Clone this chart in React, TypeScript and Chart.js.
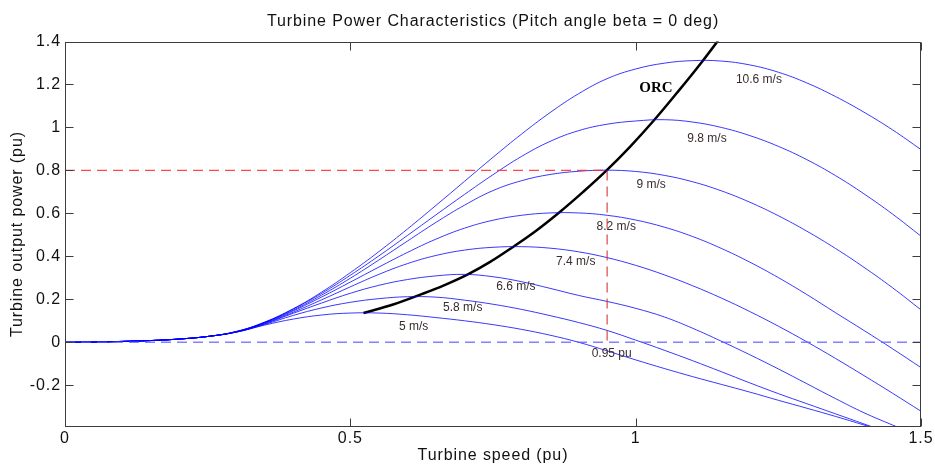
import React, { useEffect, useRef } from "react";
import { Chart, registerables } from "chart.js";

Chart.register(...registerables);

// ---- data ----
const speedGrid = [0, 0.05, 0.1, 0.15, 0.2, 0.25, 0.3, 0.35, 0.4, 0.45, 0.5, 0.55, 0.6, 0.65, 0.7, 0.75, 0.8, 0.85, 0.9, 0.95, 1.0, 1.05, 1.1, 1.15, 1.2, 1.25, 1.3, 1.35, 1.4, 1.45, 1.5];

const windSpeeds = ["5 m/s", "5.8 m/s", "6.6 m/s", "7.4 m/s", "8.2 m/s", "9 m/s", "9.8 m/s", "10.6 m/s"];

const power5 = [0, 0.001, 0.004, 0.008, 0.015, 0.027, 0.047, 0.08, 0.108, 0.127, 0.136, 0.136, 0.128, 0.115, 0.1, 0.082, 0.06, 0.033, 0.0, -0.04, -0.082, -0.122, -0.16, -0.196, -0.232, -0.27, -0.307, -0.345, -0.385, -0.425, -0.465];
const power58 = [0, 0.001, 0.004, 0.008, 0.015, 0.027, 0.047, 0.083, 0.125, 0.16, 0.186, 0.203, 0.212, 0.21, 0.196, 0.177, 0.153, 0.124, 0.092, 0.055, 0.01, -0.037, -0.086, -0.137, -0.189, -0.239, -0.286, -0.333, -0.38, -0.428, -0.475];
const power66 = [0, 0.001, 0.004, 0.008, 0.015, 0.027, 0.048, 0.086, 0.135, 0.183, 0.228, 0.265, 0.292, 0.309, 0.316, 0.305, 0.282, 0.251, 0.218, 0.19, 0.158, 0.118, 0.065, 0.005, -0.058, -0.124, -0.193, -0.262, -0.328, -0.385, -0.44];
const power74 = [0, 0.001, 0.004, 0.008, 0.015, 0.027, 0.048, 0.088, 0.14, 0.198, 0.258, 0.316, 0.366, 0.404, 0.429, 0.442, 0.445, 0.438, 0.421, 0.394, 0.358, 0.314, 0.263, 0.206, 0.143, 0.075, 0.002, -0.075, -0.155, -0.237, -0.321];
const power82 = [0, 0.001, 0.004, 0.008, 0.015, 0.027, 0.049, 0.09, 0.146, 0.211, 0.28, 0.35, 0.418, 0.48, 0.531, 0.568, 0.591, 0.602, 0.602, 0.591, 0.569, 0.536, 0.492, 0.437, 0.373, 0.301, 0.222, 0.138, 0.055, -0.03, -0.118];
const power9 = [0, 0.001, 0.004, 0.008, 0.015, 0.027, 0.049, 0.092, 0.15, 0.22, 0.298, 0.383, 0.471, 0.558, 0.638, 0.706, 0.752, 0.781, 0.796, 0.801, 0.795, 0.777, 0.747, 0.705, 0.652, 0.589, 0.517, 0.437, 0.349, 0.254, 0.151];
const power98 = [0, 0.001, 0.004, 0.008, 0.015, 0.027, 0.05, 0.093, 0.155, 0.228, 0.312, 0.402, 0.497, 0.593, 0.688, 0.78, 0.865, 0.935, 0.985, 1.015, 1.03, 1.036, 1.025, 1.0, 0.962, 0.912, 0.85, 0.776, 0.691, 0.597, 0.494];
const power106 = [0, 0.001, 0.004, 0.008, 0.015, 0.027, 0.05, 0.094, 0.156, 0.234, 0.324, 0.422, 0.527, 0.637, 0.749, 0.861, 0.969, 1.069, 1.157, 1.227, 1.272, 1.299, 1.311, 1.309, 1.291, 1.257, 1.207, 1.144, 1.071, 0.989, 0.897];

const powerSeries = [power5, power58, power66, power74, power82, power9, power98, power106];

// optimum regime characteristic (ORC)
const orcSpeed = [0.523, 0.575, 0.625, 0.665, 0.706, 0.745, 0.783, 0.825, 0.866, 0.908, 0.949, 0.99, 1.031, 1.072, 1.116, 1.16];
const orcPower = [0.136, 0.176, 0.224, 0.266, 0.316, 0.374, 0.44, 0.518, 0.604, 0.7, 0.8, 0.91, 1.03, 1.16, 1.305, 1.46];

// reference operating point
const ratedSpeed = 0.95;
const ratedPower = 0.8;

const xTickValues = [0, 0.5, 1, 1.5];
const yTickValues = [-0.2, 0, 0.2, 0.4, 0.6, 0.8, 1, 1.2, 1.4];
const xRange = [0, 1.5];
const yRange = [-0.393, 1.4];

const chartTitle = "Turbine Power Characteristics (Pitch angle beta = 0 deg)";

// curve labels, anchored in data units
const curveLabelText = ["10.6 m/s", "9.8 m/s", "9 m/s", "8.2 m/s", "7.4 m/s", "6.6 m/s", "5.8 m/s", "5 m/s", "0.95 pu"];
const curveLabelX = [1.216, 1.125, 1.027, 0.966, 0.895, 0.79, 0.697, 0.611, 0.958];
const curveLabelY = [1.22, 0.946, 0.732, 0.536, 0.374, 0.257, 0.159, 0.071, -0.055];
const orcLabel = { text: "ORC", x: 1.0355, y: 1.183 };

const FONT = '"Liberation Sans", Arial, Helvetica, sans-serif';

const spacingPlugin = {
  id: "textSpacing",
  beforeDraw(chart: any) {
    (chart.ctx as any).letterSpacing = "0.9px";
  },
  afterDraw(chart: any) {
    const { ctx, chartArea: a } = chart;
    ctx.save();
    (ctx as any).letterSpacing = "0.9px";
    ctx.fillStyle = "#111";
    ctx.font = "16px " + FONT;
    ctx.textAlign = "center";
    ctx.textBaseline = "middle";
    ctx.fillText(chartTitle, (a.left + a.right) / 2, 22);
    ctx.restore();
    (ctx as any).letterSpacing = "0px";
  },
};

const framePlugin = {
  id: "matlabFrame",
  afterDatasetsDraw(chart: any) {
    const { ctx, chartArea: a, scales } = chart;
    const xs = scales.x;
    const ys = scales.y;
    ctx.save();
    (ctx as any).letterSpacing = "0px";
    // labels
    ctx.fillStyle = "#3a2c2c";
    ctx.font = "12px " + FONT;
    ctx.textAlign = "center";
    ctx.textBaseline = "middle";
    curveLabelText.forEach((t, i) => {
      ctx.fillText(t, xs.getPixelForValue(curveLabelX[i]), ys.getPixelForValue(curveLabelY[i]));
    });
    ctx.fillStyle = "#000";
    ctx.font = 'bold 15px "Liberation Serif", "Times New Roman", serif';
    ctx.fillText(orcLabel.text, xs.getPixelForValue(orcLabel.x), ys.getPixelForValue(orcLabel.y));

    // box
    ctx.strokeStyle = "#3c3c3c";
    ctx.lineWidth = 1;
    const L = Math.round(a.left) + 0.5;
    const R = Math.round(a.right) - 0.5;
    const T = Math.round(a.top) + 0.5;
    const B = Math.round(a.bottom) - 0.5;
    ctx.strokeRect(L, T, R - L, B - T);
    const tl = 8;
    ctx.beginPath();
    xTickValues.forEach((v) => {
      const px = Math.round(xs.getPixelForValue(v)) + 0.5;
      ctx.moveTo(px, B);
      ctx.lineTo(px, B - tl);
      ctx.moveTo(px, T);
      ctx.lineTo(px, T + tl);
    });
    yTickValues.forEach((v) => {
      const py = Math.round(ys.getPixelForValue(v)) + 0.5;
      ctx.moveTo(L, py);
      ctx.lineTo(L + tl, py);
      ctx.moveTo(R, py);
      ctx.lineTo(R - tl, py);
    });
    ctx.stroke();
    ctx.restore();
  },
};

export default function App() {
  const ref = useRef<HTMLCanvasElement | null>(null);

  useEffect(() => {
    document.body.style.margin = "0";
    const canvas = ref.current;
    if (!canvas) return;

    const curveSets = powerSeries.map((series, i) => ({
      label: windSpeeds[i],
      data: speedGrid.map((x, j) => ({ x, y: series[j] })),
      borderColor: "rgba(0,0,255,0.78)",
      borderWidth: 1,
      pointRadius: 0,
      tension: 0.4,
      fill: false,
    }));

    const chart = new Chart(canvas, {
      type: "line",
      data: {
        datasets: [
          {
            label: "zero",
            data: [{ x: xRange[0], y: 0 }, { x: xRange[1], y: 0 }],
            borderColor: "rgba(90,90,255,0.75)",
            borderWidth: 1.5,
            borderDash: [10, 6],
            pointRadius: 0,
          },
          {
            label: "rated power",
            data: [{ x: xRange[0], y: ratedPower }, { x: ratedSpeed, y: ratedPower }],
            borderColor: "rgba(255,40,40,0.85)",
            borderWidth: 1.2,
            borderDash: [10, 6],
            pointRadius: 0,
          },
          {
            label: "rated speed",
            data: [{ x: ratedSpeed, y: ratedPower }, { x: ratedSpeed, y: 0 }],
            borderColor: "rgba(210,40,40,0.85)",
            borderWidth: 1.2,
            borderDash: [10, 6],
            pointRadius: 0,
          },
          ...curveSets,
          {
            label: "ORC",
            data: orcSpeed.map((x, j) => ({ x, y: orcPower[j] })),
            borderColor: "#000",
            borderWidth: 2.5,
            pointRadius: 0,
            tension: 0.4,
          },
        ],
      },
      options: {
        animation: false,
        responsive: false,
        maintainAspectRatio: false,
        layout: { padding: { left: 0, right: 14, top: 41.5, bottom: 0 } },
        plugins: {
          legend: { display: false },
          tooltip: { enabled: false },
          title: { display: false },
        },
        scales: {
          x: {
            type: "linear",
            min: xRange[0],
            max: xRange[1],
            grid: { display: false, drawTicks: false },
            border: { display: false },
            afterBuildTicks: (s: any) => {
              s.ticks = xTickValues.map((v) => ({ value: v }));
            },
            afterFit: (s: any) => {
              s.height = 38.3;
            },
            ticks: {
              padding: 2,
              color: "#111",
              font: { family: FONT, size: 16 },
              maxRotation: 0,
              callback: (v: any) => String(Math.round(Number(v) * 100) / 100),
            },
            title: {
              display: true,
              text: "Turbine speed (pu)",
              color: "#111",
              font: { family: FONT, size: 16 },
              padding: { top: 0, bottom: 0 },
            },
          },
          y: {
            type: "linear",
            min: yRange[0],
            max: yRange[1],
            grid: { display: false, drawTicks: false },
            border: { display: false },
            afterBuildTicks: (s: any) => {
              s.ticks = yTickValues.map((v) => ({ value: v }));
            },
            afterFit: (s: any) => {
              s.width = 65;
            },
            ticks: {
              padding: 4,
              color: "#111",
              font: { family: FONT, size: 16 },
              callback: (v: any) => String(Math.round(Number(v) * 100) / 100),
            },
            title: {
              display: true,
              text: "Turbine output power (pu)",
              color: "#111",
              font: { family: FONT, size: 16 },
              padding: { top: 8, bottom: 0 },
            },
          },
        },
      },
      plugins: [spacingPlugin, framePlugin],
    });

    return () => chart.destroy();
  }, []);

  return (
    <div style={{ width: 935, height: 465, background: "#fff" }}>
      <canvas ref={ref} width={935} height={465} style={{ width: 935, height: 465, display: "block" }} />
    </div>
  );
}
